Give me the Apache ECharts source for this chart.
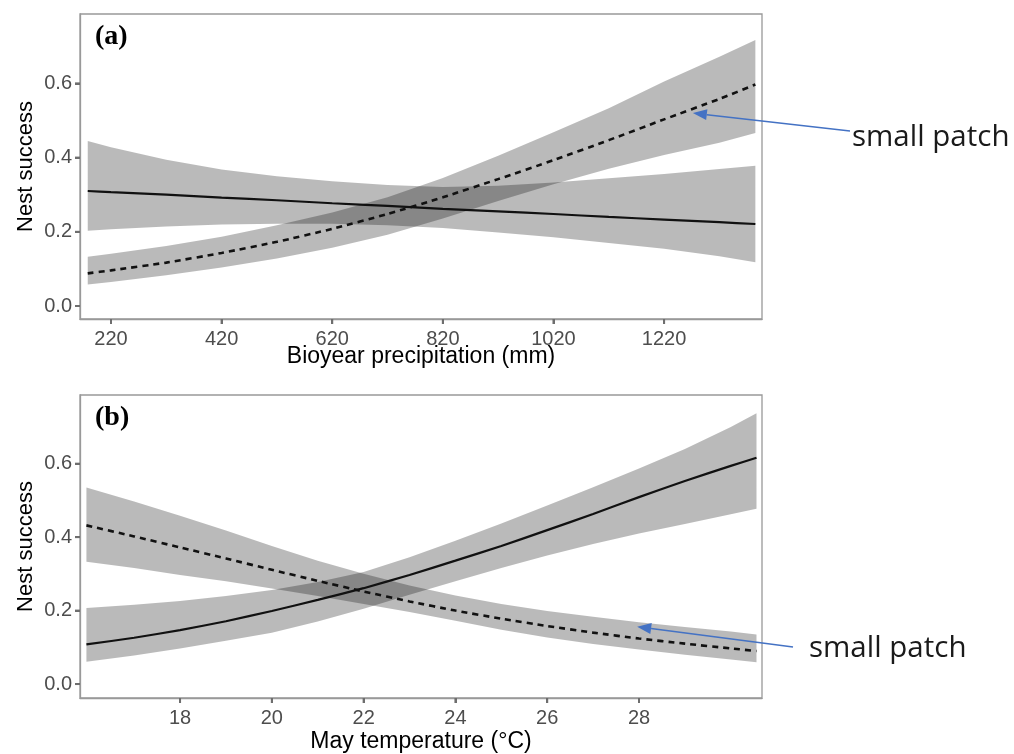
<!DOCTYPE html>
<html><head><meta charset="utf-8">
<script src="https://cdn.jsdelivr.net/npm/echarts@6/dist/echarts.min.js"></script>
<style>html,body{margin:0;padding:0;background:#fff}#c{width:1014px;height:754px}</style>
</head><body><div id="c"></div>
<script>
// ---------- Panel (a): Bioyear precipitation ----------
const precipX   = [178, 220, 320, 420, 520, 620, 720, 820, 920, 1020, 1120, 1220, 1320, 1385];
const largeFitA = [0.310, 0.307, 0.300, 0.292, 0.285, 0.277, 0.270, 0.262, 0.255, 0.248, 0.240, 0.233, 0.226, 0.221];
const largeLowA = [0.203, 0.207, 0.214, 0.220, 0.222, 0.222, 0.218, 0.210, 0.198, 0.185, 0.170, 0.154, 0.134, 0.118];
const largeHighA= [0.445, 0.428, 0.394, 0.368, 0.350, 0.336, 0.326, 0.321, 0.324, 0.333, 0.344, 0.356, 0.369, 0.378];
const smallFitA = [0.088, 0.096, 0.117, 0.143, 0.173, 0.208, 0.248, 0.293, 0.342, 0.393, 0.447, 0.503, 0.558, 0.597];
const smallLowA = [0.058, 0.065, 0.083, 0.104, 0.128, 0.157, 0.192, 0.236, 0.283, 0.328, 0.370, 0.407, 0.440, 0.466];
const smallHighA= [0.133, 0.141, 0.162, 0.187, 0.218, 0.252, 0.293, 0.345, 0.405, 0.468, 0.533, 0.605, 0.672, 0.717];

// ---------- Panel (b): May temperature ----------
const tempX     = [15.96, 17, 18, 19, 20, 21, 22, 23, 24, 25, 26, 27, 28, 29, 30, 30.56];
const largeFitB = [0.108, 0.126, 0.147, 0.171, 0.199, 0.229, 0.261, 0.297, 0.336, 0.376, 0.419, 0.463, 0.509, 0.553, 0.594, 0.616];
const largeLowB = [0.061, 0.078, 0.097, 0.118, 0.140, 0.170, 0.205, 0.243, 0.280, 0.316, 0.350, 0.381, 0.410, 0.436, 0.462, 0.477];
const largeHighB= [0.207, 0.216, 0.226, 0.240, 0.256, 0.278, 0.305, 0.345, 0.390, 0.437, 0.486, 0.536, 0.587, 0.640, 0.700, 0.737];
const smallFitB = [0.432, 0.402, 0.372, 0.342, 0.311, 0.281, 0.252, 0.225, 0.200, 0.178, 0.158, 0.140, 0.124, 0.110, 0.097, 0.090];
const smallLowB = [0.333, 0.316, 0.297, 0.280, 0.260, 0.240, 0.218, 0.196, 0.172, 0.148, 0.127, 0.109, 0.094, 0.080, 0.067, 0.059];
const smallHighB= [0.535, 0.497, 0.458, 0.418, 0.376, 0.336, 0.300, 0.268, 0.241, 0.218, 0.199, 0.183, 0.168, 0.155, 0.143, 0.135];

// ---------- Tick labels ----------
const precipTicks = [220, 420, 620, 820, 1020, 1220];
const tempTicks   = [18, 20, 22, 24, 26, 28];
const nestTicks   = [0, 0.2, 0.4, 0.6];

const panelLabels = ['(a)', '(b)'];
const xTitles = ['Bioyear precipitation (mm)', 'May temperature (°C)'];
const yTitle = 'Nest success';
const annotationText = 'small patch';
// arrow targets in data space: [panel index, x, y]
const arrowTargets = [[0, 1272, 0.52], [1, 27.96, 0.156]];

const sans = 'Liberation Sans';
const bandColor = 'rgba(0,0,0,0.27)';
const lineColor = '#111';
const frameColor = '#999';
const tickColor = '#6e6e6e';

const ranges = [
  { xMin: 164, xMax: 1397, yMin: -0.035, yMax: 0.787 },
  { xMin: 15.82, xMax: 30.68, yMin: -0.038, yMax: 0.787 }
];

function pairs(xs, ys) { return xs.map((x, i) => [x, ys[i]]); }

function bandSeries(idx, xs, lo, hi) {
  return {
    type: 'custom', coordinateSystem: 'cartesian2d', xAxisIndex: idx, yAxisIndex: idx,
    silent: true, z: 1, clip: true,
    data: pairs(xs, lo),
    renderItem: function (params, api) {
      if (params.dataIndex !== 0) return null;
      const pts = [];
      for (let i = 0; i < xs.length; i++) pts.push(api.coord([xs[i], lo[i]]));
      for (let i = xs.length - 1; i >= 0; i--) pts.push(api.coord([xs[i], hi[i]]));
      return { type: 'polygon', shape: { points: pts }, style: { fill: bandColor, stroke: null } };
    }
  };
}
function fitSeries(idx, xs, ys, dashed) {
  return { type: 'line', xAxisIndex: idx, yAxisIndex: idx, symbol: 'none', smooth: 0.2,
    lineStyle: { color: lineColor, width: dashed ? 2.6 : 2.2, type: dashed ? [6, 5] : 'solid' },
    data: pairs(xs, ys), silent: true, z: 3 };
}
// outside tick marks drawn through the axes' own scales (dir 'x' = bottom ticks, 'y' = left ticks)
function tickSeries(idx, values, dir) {
  const r = ranges[idx];
  return {
    type: 'custom', coordinateSystem: 'cartesian2d', xAxisIndex: idx, yAxisIndex: idx,
    silent: true, z: 20, clip: false,
    data: values.map(v => dir === 'x' ? [v, r.yMin] : [r.xMin, v]),
    renderItem: function (params, api) {
      const p = api.coord([api.value(0), api.value(1)]);
      const shape = dir === 'x'
        ? { x: p[0] - 1, y: p[1], width: 2, height: 5 }
        : { x: p[0] - 5, y: p[1] - 1, width: 5, height: 2 };
      return { type: 'rect', shape: shape, style: { fill: tickColor } };
    }
  };
}

const xAxisBase = (idx, ticks, title, gap) => ({
  type: 'value', gridIndex: idx, min: ranges[idx].xMin, max: ranges[idx].xMax,
  axisLine: { show: true, onZero: false, lineStyle: { color: frameColor, width: 1.3 } },
  splitLine: { show: false },
  axisTick: { show: true, inside: false, length: 5, customValues: ticks, lineStyle: { color: tickColor, width: 2 } },
  axisLabel: { customValues: ticks, color: '#4d4d4d', fontFamily: sans, fontSize: 20, margin: 10,
    formatter: v => String(v) },
  name: title, nameLocation: 'middle', nameGap: gap, nameMoveOverlap: false,
  nameTextStyle: { color: '#000', fontFamily: sans, fontSize: 23 }
});
const yAxisBase = (idx) => ({
  type: 'value', gridIndex: idx, min: ranges[idx].yMin, max: ranges[idx].yMax,
  axisLine: { show: true, onZero: false, lineStyle: { color: frameColor, width: 1.3 } },
  splitLine: { show: false },
  axisTick: { show: true, inside: false, length: 5, customValues: nestTicks, lineStyle: { color: tickColor, width: 2 } },
  axisLabel: { customValues: nestTicks, color: '#4d4d4d', fontFamily: sans, fontSize: 20, margin: 8,
    formatter: v => v.toFixed(1) },
  name: yTitle, nameLocation: 'middle', nameGap: 43, nameRotate: 90, nameMoveOverlap: false,
  nameTextStyle: { color: '#000', fontFamily: sans, fontSize: 22 }
});

const chart = echarts.init(document.getElementById('c'), null, { renderer: 'canvas' });
const option = {
  animation: false,
  backgroundColor: '#fff',
  title: [
    { text: panelLabels[0], left: 95, top: 23, padding: 0,
      textStyle: { fontFamily: 'Liberation Serif', fontWeight: 'bold', fontSize: 28, color: '#000' } },
    { text: panelLabels[1], left: 95, top: 404, padding: 0,
      textStyle: { fontFamily: 'Liberation Serif', fontWeight: 'bold', fontSize: 28, color: '#000' } }
  ],
  grid: [
    { left: 80, top: 14, width: 682, height: 305, show: true, borderColor: frameColor, borderWidth: 1.3, backgroundColor: 'transparent' },
    { left: 80, top: 395, width: 682, height: 306, show: true, borderColor: frameColor, borderWidth: 1.3, backgroundColor: 'transparent' }
  ],
  xAxis: [
    xAxisBase(0, precipTicks, xTitles[0], 26),
    xAxisBase(1, tempTicks, xTitles[1], 32)
  ],
  yAxis: [
    yAxisBase(0),
    yAxisBase(1)
  ],
  series: [
    bandSeries(0, precipX, largeLowA, largeHighA),
    bandSeries(0, precipX, smallLowA, smallHighA),
    fitSeries(0, precipX, largeFitA, false),
    fitSeries(0, precipX, smallFitA, true),
    bandSeries(1, tempX, largeLowB, largeHighB),
    bandSeries(1, tempX, smallLowB, smallHighB),
    fitSeries(1, tempX, largeFitB, false),
    fitSeries(1, tempX, smallFitB, true),
    tickSeries(0, precipTicks, 'x'),
    tickSeries(0, nestTicks, 'y'),
    tickSeries(1, tempTicks, 'x'),
    tickSeries(1, nestTicks, 'y')
  ]
};
chart.setOption(option);

// annotations: text label + arrow pointing to a data location
const annoLayout = [
  { textX: 852, textY: 138, tail: [850, 131] },
  { textX: 809, textY: 649, tail: [793, 647] }
];
const graphics = [];
arrowTargets.forEach((t, i) => {
  const tip = chart.convertToPixel({ gridIndex: t[0] }, [t[1], t[2]]);
  const L = annoLayout[i];
  const dx = tip[0] - L.tail[0], dy = tip[1] - L.tail[1];
  const len = Math.hypot(dx, dy), ux = dx / len, uy = dy / len;
  const hl = 14, hw = 5.5;
  const bx = tip[0] - ux * hl, by = tip[1] - uy * hl;
  graphics.push({ type: 'line', z: 10, shape: { x1: L.tail[0], y1: L.tail[1], x2: bx, y2: by },
    style: { stroke: '#4472C4', lineWidth: 1.5 } });
  graphics.push({ type: 'polygon', z: 10, shape: { points: [tip, [bx - uy * hw, by + ux * hw], [bx + uy * hw, by - ux * hw]] },
    style: { fill: '#4472C4' } });
  graphics.push({ type: 'text', z: 10, x: L.textX, y: L.textY,
    style: { text: annotationText, fontFamily: 'Open Sans', fontWeight: 'normal', fontSize: 29.5, fill: '#1a1a1a',
      align: 'left', verticalAlign: 'middle' } });
});
chart.setOption({ graphic: graphics });
</script>
</body></html>
